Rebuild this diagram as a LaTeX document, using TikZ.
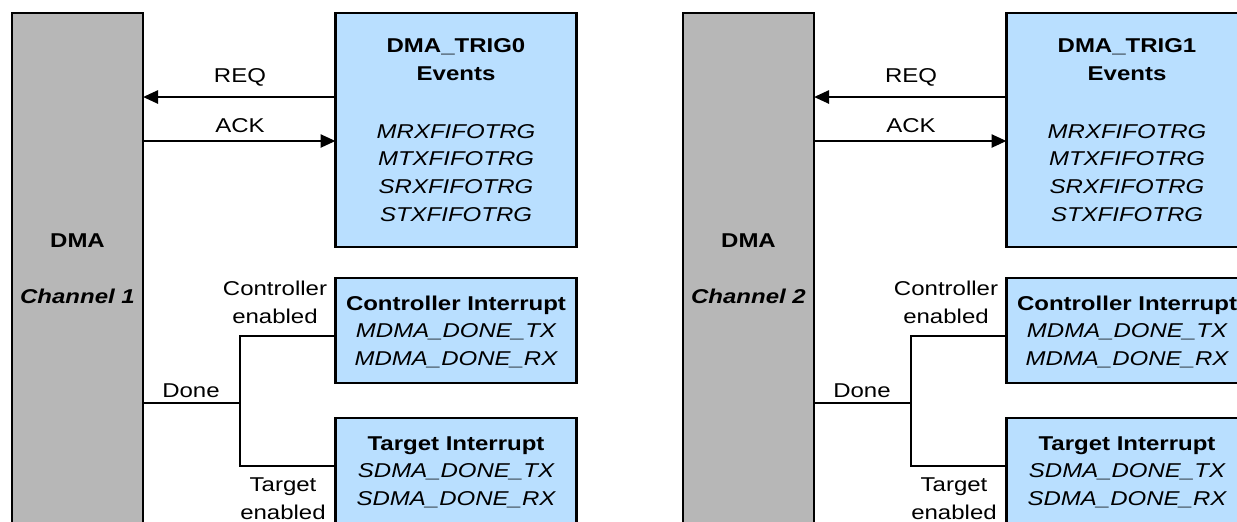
\documentclass[tikz,border=0pt]{standalone}
\usepackage{fontspec}
\setmainfont{Liberation Sans}[FakeStretch=1.2]
\usetikzlibrary{arrows.meta}
\definecolor{dmagray}{RGB}{183,183,183}
\definecolor{evblue}{RGB}{185,223,255}
\tikzset{
  box/.style={draw=black, line width=1.3pt, inner sep=0pt, outer sep=0pt, anchor=north west},
  dmabox/.style={box, fill=dmagray, minimum width=65.5pt, minimum height=273.5pt},
  trigbox/.style={box, fill=evblue, minimum width=120.5pt, minimum height=117pt},
  ctrlbox/.style={box, fill=evblue, minimum width=120.5pt, minimum height=52.5pt},
  tgtbox/.style={box, fill=evblue, minimum width=120.5pt, minimum height=71pt},
  txt/.style={anchor=base, inner sep=0pt, font=\fontsize{10}{12}\selectfont},
  btxt/.style={txt, font=\fontsize{10}{12}\selectfont\bfseries},
  itxt/.style={txt, font=\fontsize{10}{12}\selectfont\itshape},
  bitxt/.style={txt, font=\fontsize{10}{12}\selectfont\bfseries\itshape},
  wire/.style={draw=black, line width=1.25pt},
  arr/.style={wire, -{Triangle[length=7.5pt,width=6.5pt]}},
}
\newcommand\dmapanel[2]{%
  \node[dmabox] (dma) at (12,13) {};
  \node[trigbox] (trig) at (335.5,13) {};
  \node[ctrlbox] (ctrl) at (335.5,278) {};
  \node[tgtbox] (tgt) at (335.5,418) {};
  \node[btxt] (dmat) at (77.5,247) {DMA};
  \node[bitxt] (chn) at (77.5,303) {Channel #2};
  \node[btxt] (trt1) at (456,52) {DMA\_TRIG#1};
  \node[btxt] (trt2) at (456,80) {Events};
  \node[itxt] (ev1) at (456,138) {MRXFIFOTRG};
  \node[itxt] (ev2) at (456,165) {MTXFIFOTRG};
  \node[itxt] (ev3) at (456,193) {SRXFIFOTRG};
  \node[itxt] (ev4) at (456,221) {STXFIFOTRG};
  \node[txt] (reql) at (240,82) {REQ};
  \node[txt] (ackl) at (240,132) {ACK};
  \node[btxt] (ci) at (456,310) {Controller Interrupt};
  \node[itxt] (m1) at (456,337) {MDMA\_DONE\_TX};
  \node[itxt] (m2) at (456,365) {MDMA\_DONE\_RX};
  \node[btxt] (ti) at (456,450) {Target Interrupt};
  \node[itxt] (s1) at (456,477) {SDMA\_DONE\_TX};
  \node[itxt] (s2) at (456,505) {SDMA\_DONE\_RX};
  \node[txt] (cl1) at (275,295) {Controller};
  \node[txt] (cl2) at (275,323) {enabled};
  \node[txt] (tl1) at (283,491) {Target};
  \node[txt] (tl2) at (283,519) {enabled};
  \node[txt] (done) at (191,397) {Done};
  \coordinate (reqy) at (240,97);
  \coordinate (acky) at (240,141);
  \coordinate (jn) at (240,403);
  \coordinate (jc) at (240,336);
  \coordinate (jt) at (240,466);
  \draw[arr] (trig.west |- reqy) -- (dma.east |- reqy);
  \draw[arr] (dma.east |- acky) -- (trig.west |- acky);
  \draw[wire] (dma.east |- jn) -- (jn);
  \draw[wire] (ctrl.west |- jc) -- (jc) -- (jt) -- (tgt.west |- jt);
}
\begin{document}
\begin{tikzpicture}[x=0.5pt, y=-0.5pt]
  \useasboundingbox (0,0) rectangle (1237,521);
  \clip (0,0) rectangle (1237,521);
  \begin{scope}[name prefix=L-]
    \dmapanel{0}{1}
  \end{scope}
  \begin{scope}[xshift=335.5pt, name prefix=R-]
    \dmapanel{1}{2}
  \end{scope}
\end{tikzpicture}
\end{document}
